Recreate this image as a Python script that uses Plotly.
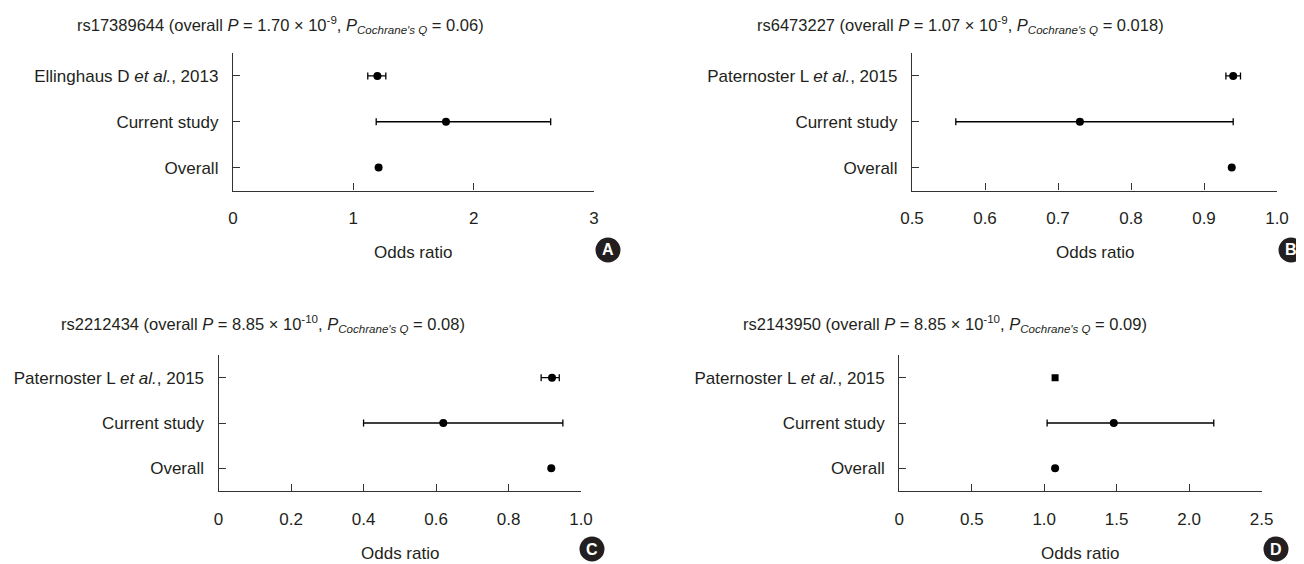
import plotly.graph_objects as go

# The page body adds an 8 px margin, so the figure is drawn 8 px smaller
# and all reference pixel positions are shifted by OFF.
W, H = 1296, 556
OFF = 8
FONT = "Liberation Sans, Arial, Helvetica, sans-serif"
INK = "#231f20"

# ---------------- data ----------------
rows_A = ["Overall", "Current study", "Ellinghaus D <i>et al.</i>, 2013"]
rows_BCD = ["Overall", "Current study", "Paternoster L <i>et al.</i>, 2015"]

# Panel A  rs17389644
or_A = [1.21, 1.77, 1.20]
lo_A = [None, 1.19, 1.12]
hi_A = [None, 2.64, 1.27]
# Panel B  rs6473227
or_B = [0.938, 0.73, 0.94]
lo_B = [None, 0.56, 0.93]
hi_B = [None, 0.94, 0.95]
# Panel C  rs2212434
or_C = [0.918, 0.62, 0.92]
lo_C = [None, 0.40, 0.89]
hi_C = [None, 0.95, 0.94]
# Panel D  rs2143950
or_D = [1.075, 1.48, 1.075]
lo_D = [None, 1.02, None]
hi_D = [None, 2.17, None]

ticks_A = [0, 1, 2, 3]
ticktext_A = ["0", "1", "2", "3"]
ticks_B = [0.5, 0.6, 0.7, 0.8, 0.9, 1.0]
ticktext_B = ["0.5", "0.6", "0.7", "0.8", "0.9", "1.0"]
ticks_C = [0, 0.2, 0.4, 0.6, 0.8, 1.0]
ticktext_C = ["0", "0.2", "0.4", "0.6", "0.8", "1.0"]
ticks_D = [0, 0.5, 1.0, 1.5, 2.0, 2.5]
ticktext_D = ["0", "0.5", "1.0", "1.5", "2.0", "2.5"]

titles = [
    "rs17389644 (overall <i>P</i> = 1.70 × 10<sup>-9</sup>, <i>P</i><sub><i>Cochrane's Q</i></sub> = 0.06)",
    "rs6473227 (overall <i>P</i> = 1.07 × 10<sup>-9</sup>, <i>P</i><sub><i>Cochrane's Q</i></sub> = 0.018)",
    "rs2212434 (overall <i>P</i> = 8.85 × 10<sup>-10</sup>, <i>P</i><sub><i>Cochrane's Q</i></sub> = 0.08)",
    "rs2143950 (overall <i>P</i> = 8.85 × 10<sup>-10</sup>, <i>P</i><sub><i>Cochrane's Q</i></sub> = 0.09)",
]
letters = ["A", "B", "C", "D"]

# ---------------- layout geometry (reference pixels) ----------------
panels = [
    dict(x=(233, 594), y=(53, 190.5), rng=[0, 3], tv=ticks_A, tt=ticktext_A, rows=rows_A,
         orr=or_A, lo=lo_A, hi=hi_A, title_xy=(75, 25), circ=(608, 250), sq=False),
    dict(x=(912, 1277), y=(53, 190.5), rng=[0.5, 1.0], tv=ticks_B, tt=ticktext_B, rows=rows_BCD,
         orr=or_B, lo=lo_B, hi=hi_B, title_xy=(755, 25), circ=(1291, 250), sq=False),
    dict(x=(218.6, 581), y=(355, 491), rng=[0, 1.0], tv=ticks_C, tt=ticktext_C, rows=rows_BCD,
         orr=or_C, lo=lo_C, hi=hi_C, title_xy=(59, 324), circ=(592, 549), sq=False),
    dict(x=(899.3, 1261.6), y=(355, 491), rng=[0, 2.5], tv=ticks_D, tt=ticktext_D, rows=rows_BCD,
         orr=or_D, lo=lo_D, hi=hi_D, title_xy=(741, 324), circ=(1276, 549), sq=True),
]


def px(x):
    return (x - OFF) / W


def py(y):
    return 1 - (y - OFF) / H


fig = go.Figure()
annotations = []
shapes = []

for i, p in enumerate(panels):
    n = "" if i == 0 else str(i + 1)
    xa, ya = "x" + n, "y" + n
    ys_ci, xs_ci, plus, minus = [], [], [], []
    for k in range(3):
        if p["lo"][k] is not None:
            ys_ci.append(k)
            xs_ci.append(p["orr"][k])
            plus.append(p["hi"][k] - p["orr"][k])
            minus.append(p["orr"][k] - p["lo"][k])
    fig.add_trace(go.Scatter(
        x=xs_ci, y=ys_ci, mode="markers", xaxis=xa, yaxis=ya, showlegend=False,
        opacity=1,
        marker=dict(color="black", size=8, symbol="circle", opacity=1, line=dict(width=0)),
        error_x=dict(type="data", symmetric=False, array=plus, arrayminus=minus,
                     color="black", thickness=1.3, width=3.5),
    ))
    ys_n = [k for k in range(3) if p["lo"][k] is None]
    xs_n = [p["orr"][k] for k in ys_n]
    syms = ["square" if (p["sq"] and k == 2) else "circle" for k in ys_n]
    sizes = [7 if s == "square" else 8 for s in syms]
    fig.add_trace(go.Scatter(
        x=xs_n, y=ys_n, mode="markers", xaxis=xa, yaxis=ya, showlegend=False,
        opacity=1,
        marker=dict(color="black", size=sizes, symbol=syms, opacity=1, line=dict(width=0)),
    ))

    axis_common = dict(showline=True, linecolor="#333333", linewidth=1.3,
                       ticks="inside", ticklen=7, tickwidth=1.3, tickcolor="#333333",
                       showgrid=False, zeroline=False, fixedrange=True, automargin=False,
                       tickfont=dict(family=FONT, size=17, color=INK))
    fig.layout["xaxis" + n] = dict(
        domain=[px(p["x"][0]), px(p["x"][1])], range=p["rng"], anchor=ya,
        tickmode="array", tickvals=p["tv"], ticktext=p["tt"], ticklabelstandoff=12,
        **axis_common)
    fig.layout["yaxis" + n] = dict(
        domain=[py(p["y"][1]), py(p["y"][0])], range=[-0.5, 2.5], anchor=xa,
        tickmode="array", tickvals=[0, 1, 2], ticktext=p["rows"], ticklabelstandoff=10,
        **axis_common)

    annotations.append(dict(
        x=px((p["x"][0] + p["x"][1]) / 2), y=py(p["y"][1] + 62), xref="paper", yref="paper",
        text="Odds ratio", showarrow=False, xanchor="center", yanchor="middle",
        font=dict(family=FONT, size=17, color=INK)))
    annotations.append(dict(
        x=px(p["title_xy"][0]), y=py(p["title_xy"][1]), xref="paper", yref="paper",
        text=titles[i], showarrow=False, xanchor="left", yanchor="middle",
        font=dict(family=FONT, size=16.5, color=INK)))
    cx, cy = p["circ"]
    r = 12.5
    shapes.append(dict(type="circle", xref="paper", yref="paper",
                       x0=px(cx - r), x1=px(cx + r), y0=py(cy + r), y1=py(cy - r),
                       fillcolor="#231f20", line=dict(width=0)))
    annotations.append(dict(
        x=px(cx), y=py(cy), xref="paper", yref="paper", text="<b>%s</b>" % letters[i],
        showarrow=False, xanchor="center", yanchor="middle",
        font=dict(family=FONT, size=16, color="white")))

fig.update_layout(
    width=W, height=H, margin=dict(l=0, r=0, t=0, b=0, autoexpand=False),
    paper_bgcolor="white", plot_bgcolor="white",
    annotations=annotations, shapes=shapes,
    font=dict(family=FONT, size=17, color=INK),
)

fig.write_html("out.html")
